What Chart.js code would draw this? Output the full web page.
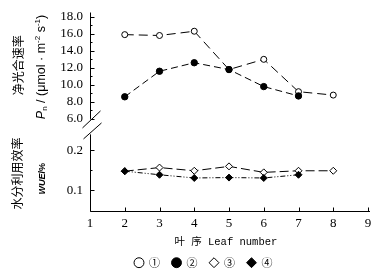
<!DOCTYPE html>
<html>
<head>
<meta charset="utf-8">
<script src="https://cdn.jsdelivr.net/npm/chart.js@4"></script>
<style>
  html, body { margin: 0; padding: 0; background: #fff; }
</style>
</head>
<body>
<canvas id="graph_feuille" width="380" height="276"></canvas>
<script>
/*------------------------------*/
/*     DONNEES                  */
/*------------------------------*/
var leafs = [2, 3, 4, 5, 6, 7, 8]
var pn_1 = [15.9, 15.8, 16.3, 11.8, 13.0, 9.2, 8.8]
var pn_2 = [8.6, 11.6, 12.6, 11.8, 9.8, 8.7, null]
var wue_3 = [0.148, 0.157, 0.149, 0.160, 0.145, 0.149, 0.149]
var wue_4 = [0.148, 0.139, 0.131, 0.132, 0.131, 0.139, null]
var series_labels = ['①', '②', '③', '④']
var pn_ticks = [6, 8, 10, 12, 14, 16, 18]
var wue_ticks = [0.1, 0.2]
var x_ticks = [1, 2, 3, 4, 5, 6, 7, 8, 9]

function points(values) {
    return values.map(function (v, i) { return { x: leafs[i], y: v } })
                 .filter(function (p) { return p.y !== null })
}

var serif = 'Liberation Serif'
var sans = 'Liberation Sans'
var cjk = 'Noto Sans CJK SC'

/*------------------------------*/
/*     AXES, TRAITS, TITRES     */
/*------------------------------*/
function line(ctx, x1, y1, x2, y2) {
    ctx.beginPath()
    ctx.moveTo(x1, y1)
    ctx.lineTo(x2, y2)
    ctx.stroke()
}

function drawPieces(ctx, pieces, cx, cy) {
    var total = 0
    pieces.forEach(function (p) { ctx.font = p.font; p.w = ctx.measureText(p.t).width; total += p.w })
    var x = cx - total / 2
    pieces.forEach(function (p) {
        ctx.font = p.font
        ctx.fillText(p.t, x, cy + (p.dy || 0))
        x += p.w
    })
}

var axes_plugin = {
    id: 'axes_plugin',
    afterDraw: function (chart) {
        var ctx = chart.ctx
        var sx = chart.scales.x, yt = chart.scales.y_pn, yb = chart.scales.y_wue
        var x0 = Math.round(sx.left) + 0.5
        var xb = Math.round(sx.top) + 0.5
        ctx.save()
        ctx.strokeStyle = '#000'
        ctx.fillStyle = '#000'
        ctx.lineWidth = 1

        // axe haut
        line(ctx, x0, yt.getPixelForValue(18.5), x0, yt.getPixelForValue(pn_ticks[0]))
        pn_ticks.forEach(function (v, i) {
            var py = Math.round(yt.getPixelForValue(v)) + 0.5
            line(ctx, x0, py, x0 + 4, py)
            if (i < pn_ticks.length - 1) {
                var pm = Math.round(yt.getPixelForValue((v + pn_ticks[i + 1]) / 2)) + 0.5
                line(ctx, x0, pm, x0 + 2, pm)
            }
        })
        // axe bas
        line(ctx, x0, yb.getPixelForValue(0.24), x0, xb)
        wue_ticks.forEach(function (v, i) {
            var py = Math.round(yb.getPixelForValue(v)) + 0.5
            line(ctx, x0, py, x0 + 4, py)
            if (i < wue_ticks.length - 1) {
                var pm = Math.round(yb.getPixelForValue((v + wue_ticks[i + 1]) / 2)) + 0.5
                line(ctx, x0, pm, x0 + 2, pm)
            }
        })
        // axe x
        line(ctx, x0, xb, sx.right + 2, xb)
        x_ticks.forEach(function (v) {
            var px = Math.round(sx.getPixelForValue(v)) + 0.5
            line(ctx, px, xb, px, xb - 4)
        })
        // coupure
        var p6 = yt.getPixelForValue(pn_ticks[0])
        line(ctx, x0 - 8, p6 + 9, x0 + 10, p6 - 8)
        line(ctx, x0 - 7, p6 + 20, x0 + 11, p6 + 4)

        // titres des axes y
        ctx.textAlign = 'left'
        ctx.textBaseline = 'middle'
        ctx.save()
        ctx.translate(18, yt.getPixelForValue(12.3))
        ctx.rotate(-Math.PI / 2)
        ctx.textAlign = 'center'
        ctx.font = '12px "' + cjk + '"'
        ctx.fillText('净光合速率', 0, 0)
        ctx.restore()

        ctx.save()
        ctx.translate(42, yt.getPixelForValue(12.1))
        ctx.rotate(-Math.PI / 2)
        drawPieces(ctx, [
            { t: 'P', font: 'italic 12.5px "' + sans + '"' },
            { t: 'n', font: '8px "' + sans + '"', dy: 3 },
            { t: ' / (μmol · m', font: '12.5px "' + sans + '"' },
            { t: '-2', font: '8px "' + sans + '"', dy: -4 },
            { t: ' s', font: '12.5px "' + sans + '"' },
            { t: '-1', font: '8px "' + sans + '"', dy: -4 },
            { t: ')', font: '12.5px "' + sans + '"' }
        ], 0, 0)
        ctx.restore()

        ctx.save()
        ctx.translate(17, yb.getPixelForValue(0.142))
        ctx.rotate(-Math.PI / 2)
        ctx.textAlign = 'center'
        ctx.font = '12px "' + cjk + '"'
        ctx.fillText('水分利用效率', 0, 0)
        ctx.restore()

        ctx.save()
        ctx.translate(43, yb.getPixelForValue(0.129))
        ctx.rotate(-Math.PI / 2)
        drawPieces(ctx, [
            { t: 'WUE', font: 'bold italic 9px "' + sans + '"' },
            { t: '/%', font: 'bold 9px "' + sans + '"' }
        ], 0, 0)
        ctx.restore()

        ctx.restore()
    }
}

/*------------------------------*/
/*     GRAPHIQUE                */
/*------------------------------*/
var ctx_feuille = document.getElementById('graph_feuille').getContext('2d')

var data_feuille = {
    datasets: [{
        label: series_labels[0],
        data: points(pn_1),
        yAxisID: 'y_pn',
        order: 3,
        borderColor: '#000',
        borderWidth: 1,
        borderDash: [9, 5],
        pointStyle: 'circle',
        pointRadius: 3,
        pointBorderWidth: 1,
        pointBackgroundColor: '#fff',
        pointBorderColor: '#000'
    }, {
        label: series_labels[1],
        data: points(pn_2),
        yAxisID: 'y_pn',
        order: 2,
        borderColor: '#000',
        borderWidth: 1,
        borderDash: [7, 4],
        pointStyle: 'circle',
        pointRadius: 3.2,
        pointBorderWidth: 1,
        pointBackgroundColor: '#000',
        pointBorderColor: '#000'
    }, {
        label: series_labels[2],
        data: points(wue_3),
        yAxisID: 'y_wue',
        order: 1,
        borderColor: '#000',
        borderWidth: 1,
        borderDash: [9, 4],
        pointStyle: 'rectRot',
        pointRadius: 3.5,
        pointBorderWidth: 1,
        pointBackgroundColor: '#fff',
        pointBorderColor: '#000'
    }, {
        label: series_labels[3],
        data: points(wue_4),
        yAxisID: 'y_wue',
        order: 0,
        borderColor: '#000',
        borderWidth: 1,
        borderDash: [5, 2, 1, 2, 1, 2],
        pointStyle: 'rectRot',
        pointRadius: 3.5,
        pointBorderWidth: 1,
        pointBackgroundColor: '#000',
        pointBorderColor: '#000'
    }]
}

var config_feuille = {
    type: 'line',
    data: data_feuille,
    options: {
      responsive: false,
      animation: false,
      devicePixelRatio: 1,
      layout: { padding: { left: 39, right: 12, top: 4, bottom: 0 } },
      scales: {
        x: {
          type: 'linear', min: 1, max: 9, position: 'bottom',
          grid: { display: false, drawTicks: false },
          border: { display: false },
          afterBuildTicks: function (s) { s.ticks = x_ticks.map(function (v) { return { value: v } }) },
          afterFit: function (s) { s.height = 34.2 },
          ticks: { padding: 5, color: '#000', autoSkip: false, maxRotation: 0,
                   font: { family: serif, size: 13 },
                   callback: function (v) { return String(v) } },
          title: { display: true, text: '叶 序 Leaf number ', color: '#000',
                   font: { family: 'Liberation Mono, ' + cjk, size: 10.5, lineHeight: 0.5 },
                   padding: { top: 0, bottom: 0 } }
        },
        y_wue: {
          type: 'linear', position: 'left', stack: 'gauche', stackWeight: 86,
          min: 0.0484, max: 0.2597,
          grid: { display: false, drawTicks: false },
          border: { display: false },
          afterBuildTicks: function (s) { s.ticks = wue_ticks.map(function (v) { return { value: v } }) },
          afterFit: function (s) { s.width = 51 },
          ticks: { padding: 7, color: '#000', autoSkip: false, font: { family: serif, size: 13 },
                   callback: function (v) { return v.toFixed(1) } }
        },
        y_pn: {
          type: 'linear', position: 'left', stack: 'gauche', stackWeight: 113.7,
          min: 5.11, max: 18.23,
          grid: { display: false, drawTicks: false },
          border: { display: false },
          afterBuildTicks: function (s) { s.ticks = pn_ticks.map(function (v) { return { value: v } }) },
          afterFit: function (s) { s.width = 51 },
          ticks: { padding: 7, color: '#000', autoSkip: false, font: { family: serif, size: 13 },
                   callback: function (v) { return v.toFixed(1) } }
        }
      },
      plugins: {
        legend: {
          position: 'bottom',
          maxHeight: 30.8,
          labels: {
            usePointStyle: true, boxWidth: 9, boxHeight: 7, padding: 12, color: '#000',
            font: { family: cjk, size: 11 },
            sort: function (a, b) { return a.datasetIndex - b.datasetIndex }
          }
        },
        tooltip: { enabled: false }
      }
    },
    plugins: [axes_plugin]
}
var graph_feuille = new Chart(ctx_feuille, config_feuille)
/*------------------------------*/
/*------------------------------*/
</script>
</body>
</html>
